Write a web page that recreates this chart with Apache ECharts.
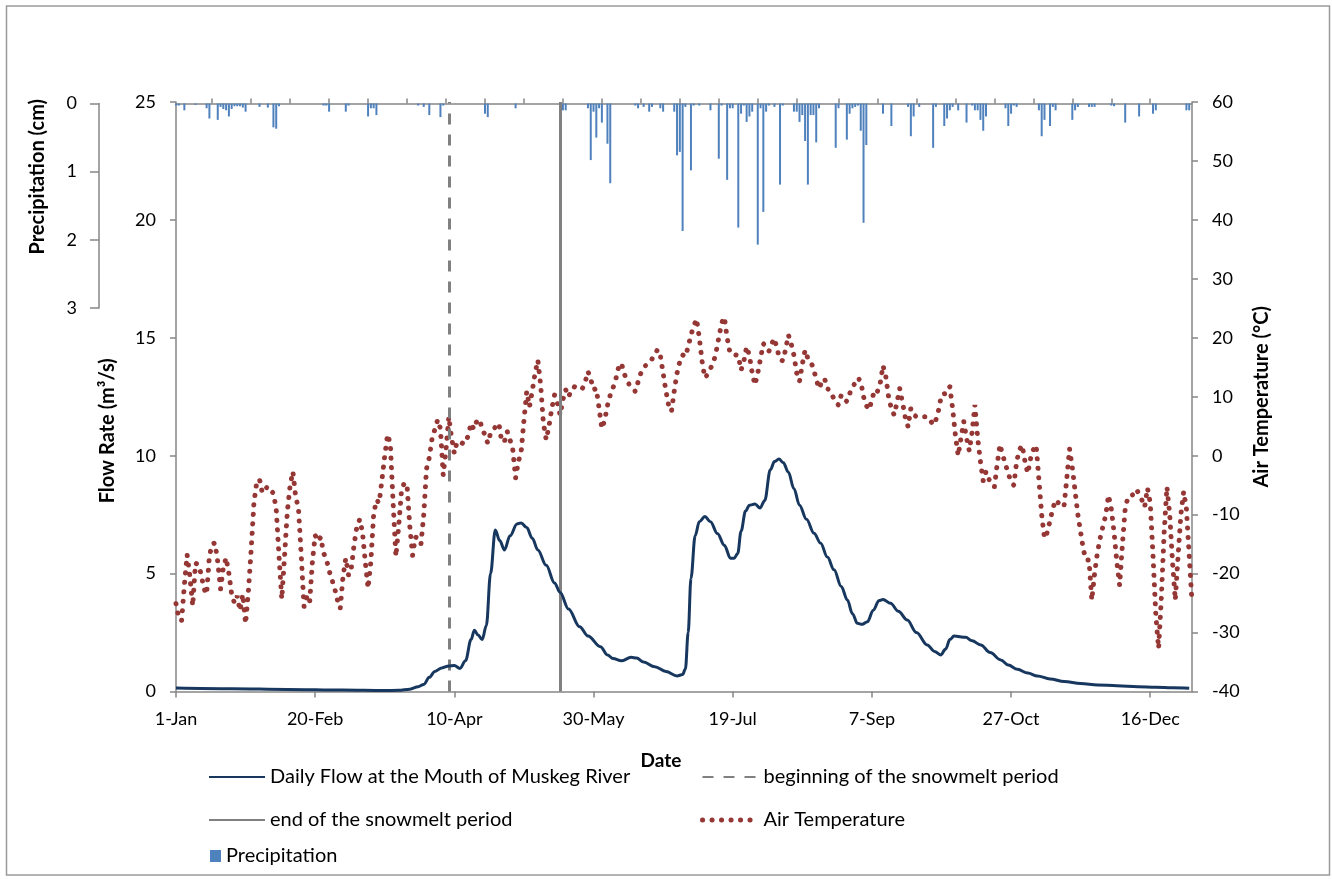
<!DOCTYPE html>
<html>
<head>
<meta charset="utf-8">
<script src="https://cdn.jsdelivr.net/npm/echarts@6/dist/echarts.min.js"></script>
<style>
html,body{margin:0;padding:0;background:#fff;}
#chart{width:1332px;height:879px;}
</style>
</head>
<body>
<div id="chart"></div>
<script>
// ---- Data (day index 0 = 1-Jan, leap year) ----
const xTickLabels = ['1-Jan','20-Feb','10-Apr','30-May','19-Jul','7-Sep','27-Oct','16-Dec'];
const precipTickDays = [13,27,41,55,69,83,97,111,125,139,153,167,181,195,209,223,238,252,266,280,294,308,322,336,350];

const snowmeltStartDay = 98;
const snowmeltEndDay = 138;

const flowDays = [0,20,40,60,75,80,84,87,89,91,93,95.5,98,100,102,104,106,107.2,108.5,110,111.5,113,114.7,116.3,118,120,122.5,124,126,128,130,133,136,138,141,145,148,152.5,155,157,160,163.5,165.5,168,172,176,180,182,183,184,185,186.5,188,190,192,194.5,197,199.2,200.5,201.8,203,204.6,206,208,209.8,211.5,213.5,215,216.6,218.2,220,222,224,226.5,229.2,231.6,234,236.4,239,241.2,243,244.8,246.5,248.4,250.5,252.5,254,256.7,259.5,262.7,266,269.9,272.5,274.7,276.5,278,279.5,283.7,286,289.1,292.5,296.3,299,302.3,306,309.5,314,319.1,325,331.1,338,345.5,352,358,364];
const flowValues = [0.15,0.12,0.09,0.06,0.04,0.05,0.1,0.2,0.3,0.6,0.85,1.0,1.08,1.1,0.98,1.3,2.2,2.6,2.4,2.2,2.8,5.0,6.85,6.4,6.0,6.6,7.1,7.15,6.95,6.5,6.0,5.35,4.6,4.2,3.5,2.75,2.35,1.9,1.55,1.4,1.3,1.45,1.42,1.25,1.05,0.85,0.66,0.72,0.95,2.5,4.8,6.6,7.2,7.42,7.2,6.7,6.2,5.65,5.65,5.85,6.8,7.65,7.9,7.95,7.78,8.1,9.4,9.75,9.86,9.7,9.3,8.6,7.9,7.3,6.71,6.29,5.7,5.16,4.45,3.88,3.3,2.89,2.85,2.96,3.45,3.85,3.9,3.74,3.4,3.03,2.5,1.97,1.7,1.55,1.8,2.2,2.35,2.3,2.15,1.97,1.65,1.34,1.12,0.94,0.78,0.66,0.53,0.42,0.34,0.28,0.24,0.2,0.18,0.16,0.14];

// Daily air temperature (deg C), day 0..365
const airTemp = [
-25.1,-27.5,-28,-22,-16.8,-20.5,-25.5,-18.2,-18.5,-20,
-22.5,-23.5,-17,-15,-14.8,-18,-22.6,-19,-17.3,-20,
-23.5,-25,-23.8,-26.3,-23.5,-28.5,-23,-16,-8,-4.5,
-4,-6.3,-5.7,-5.2,-5.8,-6.4,-9,-17,-24.3,-17,
-9.5,-5,-2.7,-7,-8.9,-17,-25.6,-24,-25,-18,
-13.5,-14.5,-13.8,-16.5,-17.5,-19.5,-21,-22.5,-24.5,-25.9,
-20.5,-17.4,-20.3,-19,-15,-12,-10.8,-13,-18,-22.5,
-18,-10,-7.5,-8,-4,0,3.6,2,-8,-17.1,
-12,-6,-4.6,-5,-12,-16.9,-13.8,-14,-15,-10,
-2.2,-0.3,2.9,4.5,6.1,4.6,-3.3,1,6.6,3,
0.4,2.4,2.3,2.1,2.1,3.5,5.5,4.5,5.8,6.2,
4.6,3.5,2.1,3.8,4.5,5,5.5,2.4,2.4,4.1,
2.7,1,-3.8,-1,0.7,6,10.9,8.3,11,14,
16.2,12,5.5,2.7,5,8,10.3,9,6.9,9.5,
11.2,10,11,11.7,11.5,11.7,11.4,12.5,14.3,13,
11.2,11.4,8,4.6,6,8.5,10.3,11.5,13,15,
15.7,14,12.6,12,11.5,10.9,12.5,14,15,15.4,
15.8,16.4,17.2,18,17,14,11,8.5,7.5,11,
14,16,17.1,16.8,18.5,20.5,22,23.2,20,16,
13.2,13.8,14.8,15.7,17.5,20,22.5,23.5,20,17.5,
17.1,17.1,17,14.5,16,18.5,17,14,12,14,
16.5,19,18.5,17.7,19,19.9,18,16.3,16.1,18,
20.5,19,17,14,12.6,15.5,17.9,16.5,16,14.8,
13,11.4,12.5,13.1,11.4,11,10,9,8.6,10.3,
9.6,9.2,10.5,11.7,12.3,13.2,12.6,10,8.5,7.8,
9.5,11.2,10.9,12.3,15.3,13.4,10,8,6.9,9,
11.4,9,6.5,4.9,8,7,6.6,6.6,6.6,6.6,
6.6,6,5.2,6.1,7.8,10.3,10.5,10.6,11.7,8,
3.5,0,3,5.8,3,0.8,4,8.6,3,-1,
-4.3,-2.7,-4,-4.5,-5.3,-1.5,1.9,0.1,-1.5,-3,
-4.5,-5,-1,1,1.8,-1,-3,-0.5,1,1.8,
-4,-10,-14,-13,-11,-9,-7.5,-8,-8.3,-8.7,
-4,1.2,-2,-6,-10,-13,-16,-17.7,-17.7,-24.5,
-20,-16.5,-14,-12,-10.1,-6.7,-9,-13,-18,-22,
-15,-9,-7,-6.9,-6.5,-5.7,-6.5,-7.5,-8.7,-5.5,
-8,-17,-27,-32.7,-24,-13,-5.3,-10,-18,-24.5,
-17,-10,-6.1,-9,-17,-24.8
];

const precipDays = [0,1,3,7,11,12,15,16,17,18,19,20,21,22,23,24,25,30,33,35,36,37,53,54,55,61,62,69,70,71,72,87,89,91,95,96,111,112,122,139,140,148,149,150,151,152,153,155,156,165,166,168,170,171,174,175,179,180,181,182,183,185,186,188,192,195,196,198,199,200,202,203,204,205,206,207,209,210,211,212,213,215,217,218,222,223,224,225,226,227,228,229,230,231,237,238,241,242,243,244,245,246,247,248,254,257,263,264,265,267,272,273,276,277,278,279,281,284,286,287,288,289,290,291,298,299,300,301,302,310,311,312,314,315,316,322,323,324,328,329,330,336,337,341,346,351,352,363,364];
const precipValues = [0.03,0.03,0.1,0.02,0.07,0.22,0.24,0.05,0.08,0.1,0.19,0.08,0.04,0.04,0.04,0.06,0.12,0.05,0.06,0.35,0.37,0.04,0.03,0.03,0.12,0.12,0.03,0.19,0.07,0.07,0.17,0.03,0.05,0.17,0.2,0.03,0.15,0.2,0.07,0.1,0.1,0.07,0.83,0.12,0.5,0.07,0.28,0.59,1.17,0.03,0.07,0.05,0.12,0.05,0.07,0.12,0.12,0.76,0.71,1.87,0.05,0.98,0.03,0.03,0.1,0.81,0.03,1.12,0.07,0.07,1.82,0.15,0.03,0.27,0.19,0.12,2.07,0.07,1.59,0.12,0.03,0.05,1.19,0.03,0.12,0.12,0.27,0.17,0.55,1.19,0.17,0.17,0.57,0.07,0.65,0.07,0.53,0.15,0.07,0.05,0.03,0.4,1.75,0.61,0.15,0.33,0.05,0.48,0.19,0.05,0.65,0.05,0.33,0.22,0.1,0.05,0.1,0.28,0.03,0.1,0.1,0.24,0.4,0.19,0.07,0.33,0.15,0.03,0.05,0.1,0.48,0.24,0.33,0.05,0.1,0.24,0.1,0.05,0.05,0.05,0.05,0.03,0.04,0.28,0.19,0.15,0.1,0.1,0.1];

// ---- Build ----
const FONT = 'Lato';
const AXIS_GRAY = '#868686';
const flowData = flowDays.map((d, i) => [d, flowValues[i]]);
const tempData = airTemp.map((t, i) => [i, t]);
const precipData = precipDays.map((d, i) => [d, precipValues[i]]);

const chart = echarts.init(document.getElementById('chart'), null, {renderer: 'canvas'});
const baseLabel = {color: '#000', fontFamily: FONT, fontSize: 18};
const nameStyle = {color: '#000', fontFamily: FONT, fontSize: 20, fontWeight: 'bold'};
const legendText = {color: '#000', fontFamily: FONT, fontSize: 20, lineHeight: 20};
const tempLineStyle = {color: '#953735', width: 5, type: [0.1, 9.4], cap: 'round'};

chart.setOption({
  animation: false,
  backgroundColor: '#fff',
  graphic: [{
    type: 'rect', shape: {x: 6.5, y: 6, width: 1323, height: 869},
    style: {fill: 'none', stroke: '#9a9a9a', lineWidth: 1.5}, silent: true, z: -10
  }],
  grid: [
    {left: 176, right: 140, top: 102, bottom: 187.5},
    {left: 176, right: 140, top: 103.5, height: 204.5}
  ],
  xAxis: [{
    type: 'value', gridIndex: 0, min: 0, max: 365, interval: 50,
    position: 'bottom',
    axisLine: {onZero: false, lineStyle: {color: AXIS_GRAY, width: 1.5}},
    axisTick: {show: true, length: 6, lineStyle: {color: AXIS_GRAY, width: 1.5}},
    splitLine: {show: false},
    axisLabel: Object.assign({}, baseLabel, {
      margin: 19, showMaxLabel: false,
      formatter: v => (v % 50 === 0 ? (xTickLabels[v / 50] || '') : '')
    }),
    name: 'Date', nameLocation: 'middle', nameGap: 60,
    nameTextStyle: Object.assign({}, nameStyle, {fontSize: 19, padding: [0, 46, 0, 0]})
  }, {
    type: 'value', gridIndex: 1, min: 0, max: 365,
    position: 'top',
    axisLine: {onZero: false, lineStyle: {color: AXIS_GRAY, width: 1.5}},
    axisTick: {show: true, length: 5, customValues: precipTickDays, lineStyle: {color: AXIS_GRAY, width: 1.5}},
    axisLabel: {show: false},
    splitLine: {show: false}
  }],
  yAxis: [{
    type: 'value', gridIndex: 0, min: 0, max: 25, interval: 5, position: 'left',
    axisLine: {show: true, onZero: false, lineStyle: {color: AXIS_GRAY, width: 1.5}},
    axisTick: {show: true, length: 6, lineStyle: {color: AXIS_GRAY, width: 1.5}},
    splitLine: {show: false},
    axisLabel: Object.assign({}, baseLabel, {margin: 20}),
    name: 'Flow Rate (m³/s)', nameLocation: 'middle', nameGap: 58, nameRotate: 90,
    nameTextStyle: Object.assign({}, nameStyle, {padding: [0, 68, 0, 0]})
  }, {
    type: 'value', gridIndex: 0, min: -40, max: 60, interval: 10, position: 'right',
    axisLine: {show: true, onZero: false, lineStyle: {color: AXIS_GRAY, width: 1.5}},
    axisTick: {show: true, length: 6, lineStyle: {color: AXIS_GRAY, width: 1.5}},
    splitLine: {show: false},
    axisLabel: Object.assign({}, baseLabel, {margin: 20}),
    name: 'Air Temperature (°C)', nameLocation: 'middle', nameGap: 60, nameRotate: 90,
    nameTextStyle: nameStyle
  }, {
    type: 'value', gridIndex: 1, min: 0, max: 3, interval: 1, inverse: true,
    position: 'left', offset: 77,
    axisLine: {show: true, onZero: false, lineStyle: {color: AXIS_GRAY, width: 1.5}},
    axisTick: {show: true, length: 9, lineStyle: {color: AXIS_GRAY, width: 1.5}},
    splitLine: {show: false},
    axisLabel: Object.assign({}, baseLabel, {margin: 22}),
    name: 'Precipitation (cm)', nameLocation: 'middle', nameGap: 51, nameRotate: 90,
    nameTextStyle: Object.assign({}, nameStyle, {padding: [0, 0, 0, 58]})
  }],
  legend: [{
    orient: 'vertical', left: 208, top: 767, itemGap: 23, padding: 0,
    itemWidth: 56, itemHeight: 14, itemStyle: {opacity: 0},
    textStyle: legendText,
    data: ['Daily Flow at the Mouth of Muskeg River', 'end of the snowmelt period']
  }, {
    orient: 'vertical', left: 700, top: 767, itemGap: 23, padding: 0,
    itemWidth: 56, itemHeight: 14, itemStyle: {opacity: 0},
    textStyle: legendText,
    data: ['beginning of the snowmelt period', {name: 'Air Temperature', lineStyle: tempLineStyle}]
  }, {
    orient: 'vertical', left: 210, top: 846, padding: 0,
    itemWidth: 11, itemHeight: 12,
    textStyle: legendText,
    data: [{name: 'Precipitation', icon: 'rect'}]
  }],
  series: [{
    name: 'Precipitation', type: 'bar', xAxisIndex: 1, yAxisIndex: 2,
    data: precipData, barWidth: 2, itemStyle: {color: '#4F81BD'}, z: 2
  }, {
    name: 'beginning of the snowmelt period', type: 'line', xAxisIndex: 0, yAxisIndex: 0,
    data: [], symbol: 'none', color: '#808080',
    lineStyle: {color: '#808080', width: 3, type: [11, 10]},
    markLine: {
      silent: true, symbol: 'none', label: {show: false},
      lineStyle: {color: '#808080', width: 3, type: [11, 10]},
      data: [{xAxis: snowmeltStartDay}]
    }, z: 3
  }, {
    name: 'end of the snowmelt period', type: 'line', xAxisIndex: 0, yAxisIndex: 0,
    data: [], symbol: 'none', color: '#808080',
    lineStyle: {color: '#808080', width: 3, type: 'solid'},
    markLine: {
      silent: true, symbol: 'none', label: {show: false},
      lineStyle: {color: '#808080', width: 3, type: 'solid'},
      data: [{xAxis: snowmeltEndDay}]
    }, z: 3
  }, {
    name: 'Air Temperature', type: 'line', xAxisIndex: 0, yAxisIndex: 1,
    data: tempData, symbol: 'none', color: '#953735',
    lineStyle: tempLineStyle, z: 4
  }, {
    name: 'Daily Flow at the Mouth of Muskeg River', type: 'line', xAxisIndex: 0, yAxisIndex: 0,
    data: flowData, symbol: 'none', smooth: 0.35, smoothMonotone: 'x', color: '#17375E',
    lineStyle: {color: '#17375E', width: 3}, z: 5
  }]
});
</script>
</body>
</html>
